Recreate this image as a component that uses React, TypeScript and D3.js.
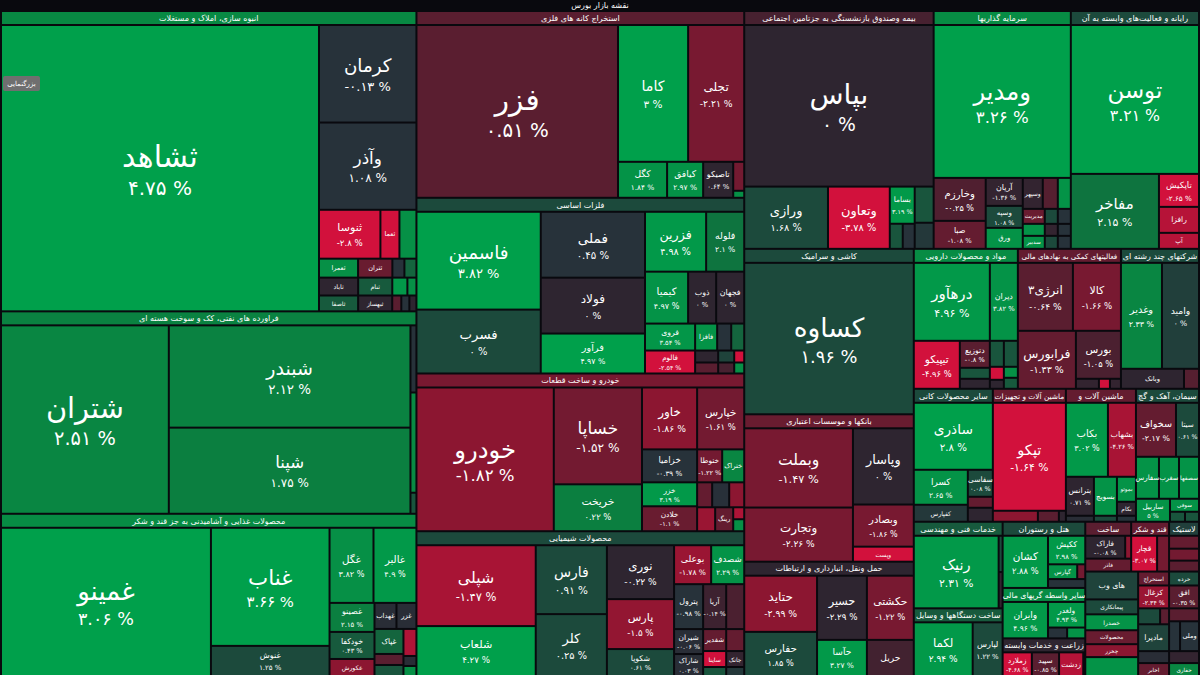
import React, { useMemo } from 'react';
import * as d3 from 'd3';

// ---------- DATA ----------
// sectors: [id, title, colour value]
const sectors: [string, string, number][] = [
  ['s1', 'انبوه سازی، املاک و مستغلات', 2.3],
  ['s2', 'فراورده های نفتی، کک و سوخت هسته ای', 2.1],
  ['s3', 'محصولات غذایی و آشامیدنی به جز قند و شکر', 2.4],
  ['s4', 'استخراج کانه های فلزی', -1],
  ['s5', 'فلزات اساسی', 1],
  ['s6', 'خودرو و ساخت قطعات', -1.6],
  ['s7', 'محصولات شیمیایی', 1],
  ['s8', 'بیمه وصندوق بازنشستگی به جزتامین اجتماعی', -0.6],
  ['s9', 'سرمایه گذاریها', 2.4],
  ['s10', 'رایانه و فعالیت‌های وابسته به آن', 1],
  ['s11', 'کاشی و سرامیک', 1],
  ['s12', 'بانکها و موسسات اعتباری', -1.3],
  ['s13', 'حمل ونقل، انبارداری و ارتباطات', -0.1],
  ['s14', 'مواد و محصولات دارویی', 2.4],
  ['s15', 'فعالیتهای کمکی به نهادهای مالی', -1.2],
  ['s16', 'شرکتهای چند رشته ای', 1],
  ['s17', 'سایر محصولات کانی', 1],
  ['s18', 'ماشین آلات و تجهیزات', -1.3],
  ['s19', 'ماشین آلات و', -1.2],
  ['s20', 'سیمان، آهک و گچ', 1],
  ['s21', 'خدمات فنی و مهندسی', 1.3],
  ['s22', 'ساخت دستگاهها و وسایل', 1.3],
  ['s23', 'هتل و رستوران', 1],
  ['s24', 'سایر واسطه گریهای مالی', 2.4],
  ['s25', 'زراعت و خدمات وابسته', -0.1],
  ['s26', 'ساخت', -1],
  ['s27', 'قند و شکر', -1.2],
  ['s28', 'لاستیک', 0.7],
];

// stocks: [symbol (aNN = unlabeled), last change %, colour value, weight]
const stocks: [string, number | null, number, number][] = [
  ['ثشاهد', 4.75, 3, 91000], ['کرمان', -0.13, 0.35, 9500], ['وآذر', 1.08, 0.35, 8500],
  ['ثنوسا', -2.8, -3, 3000], ['ثعما', null, -3, 930], ['a1', null, 2.5, 830],
  ['ثعمرا', null, 2.5, 740], ['ثتران', null, -1.3, 650], ['a2', null, 0.35, 228], ['a3', null, 1.5, 228],
  ['ثاباد', null, -0.1, 700], ['ثنام', null, 1.3, 610], ['a4', null, 2.8, 270], ['a5', null, 2.5, 162],
  ['ثاصفا', null, 1.3, 620], ['ثبهساز', null, -0.1, 540], ['a6', null, -1, 144], ['a7', null, 0.35, 128], ['a8', null, -0.1, 112],
  ['شتران', 2.51, 2.2, 31600], ['شبندر', 2.12, 2.1, 24700], ['شپنا', 1.75, 2.0, 20800],
  ['a9', null, 0.35, 402], ['a10', null, 2.3, 600], ['a11', null, 1.2, 126],
  ['غمینو', 3.06, 3, 31100], ['غناب', 3.66, 3, 14000], ['غنوش', 1.25, 1, 3570],
  ['غگل', 3.82, 2.5, 3300], ['غالبر', 4.9, 2.8, 3225], ['غصینو', 2.15, 2.0, 1305],
  ['خودکفا', 0.43, 1.3, 1215], ['غکورش', null, -2, 765], ['غهداب', null, 0.2, 572], ['غزر', null, 0.2, 520],
  ['غپاک', null, 1.5, 725], ['غشهد', null, -1, 319], ['غشاذر', null, 1.2, 319],
  ['a12', null, -2.5, 351], ['a13', null, 0.2, 130], ['a14', null, 2.5, 130],
  ['فزر', 0.51, -1, 34800], ['کاما', 3, 3, 9590], ['تجلی', -2.21, -1.6, 7672],
  ['کگل', 1.84, 2.6, 1764], ['کیافق', 2.97, 2.6, 1296], ['تاصیکو', 0.64, -0.1, 1080],
  ['a15', null, -1.5, 319], ['a16', null, 2.5, 77],
  ['فاسمین', 3.82, 3, 12152], ['فسرب', 0, 1, 7936], ['فملی', 0.45, 0.35, 6864], ['فولاد', 0, -0.1, 5824],
  ['فرآور', 4.97, 3, 4160], ['فزرین', 4.98, 2.8, 3660], ['فلوله', 2.1, 1.8, 2280], ['کیمیا', 4.97, 2.6, 2236],
  ['ذوب', 0, -0.1, 1456], ['فجهان', 0, -0.1, 1456], ['فروی', 3.54, 2.7, 1350], ['فافزا', null, 2.6, 594],
  ['a17', null, 0.35, 378], ['a18', null, 1.5, 351], ['فالوم', -2.54, -3, 1150], ['فسپا', null, -0.1, 276],
  ['a19', null, -1, 253], ['a20', null, 0.8, 192], ['a21', null, -3, 120], ['a22', null, -0.6, 176], ['a23', null, 2.5, 110],
  ['خودرو', -1.82, -2, 19728], ['خساپا', -1.52, -1.5, 8536], ['خریخت', 0.22, 2, 4136],
  ['خاور', -1.86, -2, 3410], ['خپارس', -1.61, -1.5, 2914], ['خزامیا', -0.39, 0.35, 1815],
  ['خنوطا', -1.22, -1.5, 825], ['ختراک', null, 2.2, 726], ['خزر', 3.19, 2.8, 1320], ['خلادن', -1.1, -1.3, 1375],
  ['a24', null, -1.2, 375], ['a25', null, 0.3, 425], ['a26', null, -2, 375],
  ['محرکه', null, -2.2, 432], ['رینگ', null, -1.2, 432], ['a27', null, -2.5, 132], ['a28', null, 2.5, 132],
  ['شپلی', -1.47, -2.4, 9639], ['شلعاب', 4.27, 3, 5950], ['فارس', 0.91, 1, 4899], ['کلر', 0.25, 1, 4402],
  ['نوری', -0.22, -0.1, 3618], ['پارس', -1.5, -2.1, 3350], ['شکویا', 0.61, 1, 1809],
  ['بوعلی', -1.78, -2.2, 1443], ['شصدف', 2.29, 2.6, 1287], ['پترول', -0.98, 0.35, 1305],
  ['آریا', -0.14, -0.4, 1035], ['نسینا', null, -0.7, 810], ['شیران', -0.06, 0.2, 725], ['شاراک', 0.03, 0.2, 638],
  ['شفدیر', null, -1.2, 506], ['ساینا', null, -3, 368], ['a29', null, 1.2, 207],
  ['شاروم', null, -1.2, 396], ['جانک', null, -0.2, 288], ['a30', null, 0.5, 162],
  ['بپاس', 0, -0.1, 30590], ['ورازی', 1.68, 1, 5208], ['وتعاون', -3.78, -3, 3844], ['بساما', 3.19, 2.8, 925],
  ['a31', null, 1.2, 325], ['a32', null, 0.35, 300], ['a33', null, 1.2, 684], ['a34', null, 0.5, 494],
  ['ومدیر', 3.26, 3, 20961], ['وخارزم', -0.25, -0.8, 2236], ['صبا', -1.08, -1.2, 1456],
  ['آریان', -1.36, -0.2, 1036], ['وسپه', 1.08, 1, 814], ['ورق', null, 2.6, 777],
  ['وسپهر', null, -0.2, 620], ['a35', null, -0.9, 465], ['a36', null, 2.6, 403],
  ['مدیریت', null, -1.3, 330], ['a37', null, 1, 195], ['a38', null, 0.35, 195],
  ['پردیس', null, 2.6, 264], ['a39', null, -0.2, 156], ['a40', null, 0.35, 156],
  ['سدبیر', null, 2.6, 286], ['a41', null, 1, 169], ['a42', null, 0.35, 169],
  ['توسن', 3.21, 3, 19072], ['مفاخر', 2.15, 1.8, 6600], ['تاپکیش', -2.65, -3, 1320],
  ['رافزا', null, -2.6, 1040], ['آپ', null, -2.6, 640],
  ['کساوه', 1.96, 1, 25670],
  ['وبملت', -1.47, -1.6, 8611], ['وتجارت', -2.26, -1.6, 5886], ['وپاسار', 0, -0.1, 4636],
  ['وبصادر', -1.86, -1.6, 2562], ['وپست', null, -3, 915],
  ['حتاید', -2.99, -2, 4088], ['حفارس', 1.85, 1, 3212], ['حسیر', -2.29, -0.1, 3200],
  ['حآسا', 3.27, 2.8, 1800], ['حکشتی', -1.22, -1.6, 3008], ['حریل', null, -0.5, 1692],
  ['درهآور', 4.96, 2.8, 5928], ['دیران', 3.82, 2.6, 2184], ['تیپیکو', -4.96, -3, 2208], ['دتوزیع', -0.8, -1, 810],
  ['a43', null, 1.2, 330], ['a44', null, -0.1, 300], ['a45', null, 1.2, 364], ['a46', null, 1.2, 364],
  ['a47', null, -3, 182], ['a48', null, -0.1, 126], ['a49', null, 2.5, 154], ['a50', null, 1.3, 154],
  ['انرژی۳', -0.64, -1, 3740], ['کالا', -1.66, -1.6, 3264], ['فرابورس', -1.33, -1.2, 3364], ['بورس', -1.05, -0.7, 2160],
  ['a51', null, -0.2, 230], ['a52', null, -3, 110], ['a53', null, -0.2, 110],
  ['وغدیر', 2.33, 2.2, 4346], ['وامید', 0, 0.7, 3922], ['وبانک', null, -0.1, 1260], ['a54', null, -0.9, 300],
  ['ساذری', 2.8, 3, 5293], ['کسرا', 2.65, 2.6, 1890], ['کفپارس', null, 0.5, 918],
  ['سفاسی', 0.08, 1, 675], ['کهمدا', null, -1.2, 275], ['a55', null, -0.1, 350],
  ['تپکو', -1.64, -3, 7884], ['تیمپی', null, -2, 495], ['لخانه', null, -1, 231], ['a56', null, -0.1, 77],
  ['بکاب', 3.02, 2.8, 3108], ['بشهاب', -4.26, -2.4, 2072], ['بترانس', 0.71, -0.1, 1092], ['a57', null, 0.2, 168],
  ['بسویچ', null, 2.6, 897], ['a58', null, 1, 138], ['بموتو', null, 2.6, 475], ['بکام', null, -0.1, 266], ['a59', null, 0.35, 114],
  ['سخواف', -2.17, -1.2, 2160], ['سیتا', 0.61, 1, 1242], ['سفارس', null, 2.6, 966], ['سغرب', null, 2.6, 840],
  ['سصفها', null, 2.6, 840], ['ساربیل', 5, 2.6, 782], ['سوفی', null, 2.6, 377], ['a60', null, 1.2, 150], ['a61', null, 1.2, 140],
  ['رنیک', 2.31, 2.8, 6205], ['a62', null, 1, 146], ['a63', null, -0.2, 146],
  ['لکما', 2.94, 2.8, 3186], ['لپارس', 1.22, 1, 1620],
  ['کشان', 2.88, 2.8, 2385], ['ککیش', 2.98, 2.8, 1073], ['گپارس', null, 2.6, 435], ['a64', null, -1.5, 120], ['a65', null, 0.35, 333],
  ['وایران', 4.96, 2.8, 1665], ['ولغدر', 4.93, 2.8, 962], ['ولکار', null, 0.35, 209], ['a66', null, 2.6, 198],
  ['زملارد', -4.68, -3, 696], ['سپید', -0.85, -1, 648], ['زدشت', null, -2.6, 576], ['a67', null, -0.1, 48],
  ['فاراک', -0.08, -0.1, 920], ['a68', null, -2, 138], ['فاذر', null, -1.2, 598],
  ['قچار', -3.07, -3, 936], ['a69', null, -1.5, 432],
  ['a70', null, -1.2, 390], ['a71', null, -1.5, 360], ['a72', null, -1, 330],
  ['های وب', null, 0.8, 1484], ['پیمانکاری', null, 1, 795], ['خصدرا', null, 2.6, 848],
  ['محصولات', null, -1.3, 742], ['چخزر', null, -2, 689], ['a73', null, 2.6, 1007],
  ['استخراج', null, -1.2, 434], ['کزغال', -2.34, -2.2, 713], ['a74', null, 1, 352], ['a75', null, -1, 144],
  ['مادیرا', null, 0.8, 837], ['مخابرات', null, 0.2, 372], ['اخابر', null, -1.2, 403],
  ['خرده', null, 1, 420], ['افق', -0.35, -1, 690], ['a76', null, -1, 390], ['a77', null, 0.35, 330],
  ['وملی', null, 0.35, 570], ['a78', null, -0.2, 360], ['حفاری', null, 2.2, 390],
];

// colour scale stops (colour value -> fill)
const colorStops = [-3, -2, -1, -0.05, 0.35, 1, 2, 3];
const colorRange = ['#d2113c', '#8c1631', '#5a1e30', '#2c2530', '#27323a', '#1c4a3c', '#0b7f40', '#00a04b'];

// ---------- LAYOUT TREE (h = side by side, v = stacked) ----------
type TNode = { id?: string; d?: 'h' | 'v'; sector?: string; children?: TNode[] };
const lf = (c: TNode | string): TNode => (typeof c === 'string' ? { id: c } : c);
const H = (...c: (TNode | string)[]): TNode => ({ d: 'h', children: c.map(lf) });
const V = (...c: (TNode | string)[]): TNode => ({ d: 'v', children: c.map(lf) });
const S = (sector: string, d: 'h' | 'v', ...c: (TNode | string)[]): TNode => ({ sector, d, children: c.map(lf) });

const tree: TNode = H(
  V(
    S('s1', 'h', 'ثشاهد', V('کرمان', 'وآذر', V(H('ثنوسا', 'ثعما', 'a1'), H('ثعمرا', 'ثتران', 'a2', 'a3'), H('ثاباد', 'ثنام', 'a4', 'a5'), H('ثاصفا', 'ثبهساز', 'a6', 'a7', 'a8')))),
    S('s2', 'h', 'شتران', H(V('شبندر', 'شپنا'), V('a9', 'a10', 'a11'))),
    S('s3', 'h', 'غمینو', H(V('غناب', 'غنوش'), V(H('غگل', 'غالبر'), H(V('غصینو', 'خودکفا', 'غکورش'), V(H('غهداب', 'غزر'), H(V('غپاک', 'غشهد', 'غشاذر'), V('a12', 'a13', 'a14'))))))),
  ),
  V(
    S('s4', 'h', 'فزر', V(H('کاما', 'تجلی'), H('کگل', 'کیافق', 'تاصیکو', V('a15', 'a16')))),
    S('s5', 'h', V('فاسمین', 'فسرب'), V('فملی', 'فولاد', 'فرآور'),
      V(H('فزرین', 'فلوله'), H('کیمیا', 'ذوب', 'فجهان'), H('فروی', 'فافزا', 'a17', 'a18'), H('فالوم', V('فسپا', 'a19'), V(H('a20', 'a21'), H('a22', 'a23'))))),
    S('s6', 'h', 'خودرو', V('خساپا', 'خریخت'),
      V(H('خاور', 'خپارس'), H('خزامیا', 'خنوطا', 'ختراک'), H(V('خزر', 'خلادن'), V(H('a24', 'a25', 'a26'), H('محرکه', 'رینگ', V('a27', 'a28')))))),
    S('s7', 'h', V('شپلی', 'شلعاب'), V('فارس', 'کلر'), V('نوری', 'پارس', 'شکویا'),
      V(H('بوعلی', 'شصدف'), H('پترول', 'آریا', 'نسینا'), H(V('شیران', 'شاراک'), V('شفدیر', 'ساینا', 'a29'), V('شاروم', 'جانک', 'a30')))),
  ),
  V(
    H(
      S('s8', 'v', 'بپاس', H('ورازی', 'وتعاون', V('بساما', H('a31', 'a32')), V('a33', 'a34'))),
      S('s9', 'v', 'ومدیر', H(V('وخارزم', 'صبا'), V('آریان', 'وسپه', 'ورق'),
        V(H('وسپهر', 'a35', 'a36'), H('مدیریت', 'a37', 'a38'), H('پردیس', 'a39', 'a40'), H('سدبیر', 'a41', 'a42')))),
      S('s10', 'v', 'توسن', H('مفاخر', V('تاپکیش', 'رافزا', 'آپ'))),
    ),
    H(
      V(
        S('s11', 'h', 'کساوه'),
        S('s12', 'h', V('وبملت', 'وتجارت'), V('وپاسار', 'وبصادر', 'وپست')),
        S('s13', 'h', V('حتاید', 'حفارس'), V('حسیر', 'حآسا'), V('حکشتی', 'حریل')),
      ),
      V(
        H(
          S('s14', 'v', H('درهآور', 'دیران'), H('تیپیکو', V('دتوزیع', 'a43', 'a44'), V(H('a45', 'a46'), H(V('a47', 'a48'), V('a49', 'a50'))))),
          S('s15', 'v', H('انرژی۳', 'کالا'), H('فرابورس', V('بورس', H('a51', 'a52', 'a53')))),
          S('s16', 'v', H('وغدیر', 'وامید'), H('وبانک', 'a54')),
        ),
        H(
          S('s17', 'v', 'ساذری', H(V('کسرا', 'کفپارس'), V('سفاسی', 'کهمدا', 'a55'))),
          S('s18', 'v', 'تپکو', H('تیمپی', 'لخانه', 'a56')),
          S('s19', 'v', H('بکاب', 'بشهاب'), H(V('بترانس', 'a57'), V('بسویچ', 'a58'), V('بموتو', 'بکام', 'a59'))),
          S('s20', 'v', H('سخواف', 'سیتا'), H('سفارس', 'سغرب', 'سصفها'), H('ساربیل', V('سوفی', H('a60', 'a61')))),
        ),
        H(
          V(S('s21', 'h', 'رنیک', V('a62', 'a63')), S('s22', 'h', 'لکما', 'لپارس')),
          V(S('s23', 'h', 'کشان', V('ککیش', H('گپارس', 'a64'), 'a65')), S('s24', 'h', 'وایران', V('ولغدر', H('ولکار', 'a66'))), S('s25', 'h', 'زملارد', 'سپید', 'زدشت', 'a67')),
          V(
            H(S('s26', 'v', H('فاراک', 'a68'), 'فاذر'), S('s27', 'h', 'قچار', 'a69'), S('s28', 'v', 'a70', 'a71', 'a72')),
            H(V('های وب', 'پیمانکاری', 'خصدرا', 'محصولات', 'چخزر', 'a73'),
              V('استخراج', 'کزغال', H('a74', 'a75'), 'مادیرا', 'مخابرات', 'اخابر'),
              V('خرده', 'افق', 'a76', H('a77', 'وملی'), 'a78', 'حفاری')),
          ),
        ),
      ),
    ),
  ),
);

// ---------- HELPERS ----------
const W = 1200, HT = 675, HDR = 14;
const fa = (s: string) => s.replace(/\d/g, (d) => '۰۱۲۳۴۵۶۷۸۹'[+d]);
const FONT = "'DejaVu Sans', sans-serif";

function tile(node: any, x0: number, y0: number, x1: number, y1: number) {
  const ch = node.children;
  if (!ch) return;
  if (node.data.d === 'h') {
    const h = y1 - y0;
    const ws = ch.map((c: any) => c.value / Math.max(1, h - c.oh));
    const tot = d3.sum(ws as number[]);
    let x = x0;
    ch.forEach((c: any, i: number) => {
      c.x0 = x; x += ((x1 - x0) * ws[i]) / tot; c.x1 = x; c.y0 = y0; c.y1 = y1;
    });
  } else {
    const ohs = d3.sum(ch, (c: any) => c.oh);
    const avail = Math.max(0, y1 - y0 - ohs);
    const tot = d3.sum(ch, (c: any) => c.value);
    let y = y0;
    ch.forEach((c: any) => {
      c.x0 = x0; c.x1 = x1; c.y0 = y; y += c.oh + (avail * c.value) / tot; c.y1 = y;
    });
  }
}

export default function App() {
  const { leaves, heads } = useMemo(() => {
    const stockMap = new Map(stocks.map((s) => [s[0], s]));
    const root: any = d3.hierarchy<TNode>(tree, (d) => d.children).sum((d) => (d.id ? stockMap.get(d.id)?.[3] ?? 0 : 0));
    root.eachAfter((n: any) => {
      let oh = 0;
      if (n.children) {
        if (n.data.d === 'v') oh = d3.sum(n.children, (c: any) => c.oh);
        else oh = d3.sum(n.children, (c: any) => c.oh * c.value) / (n.value || 1);
      }
      if (n.data.sector) oh += HDR;
      n.oh = oh;
    });
    d3.treemap<TNode>()
      .size([W, HT])
      .tile(tile as any)
      .paddingInner(2)
      .paddingTop((n: any) => (n.depth === 0 ? 12 : n.data.sector ? HDR : 0))
      .paddingLeft((n: any) => (n.depth === 0 ? 2 : 0))
      .paddingRight((n: any) => (n.depth === 0 ? 2 : 0))(root);
    const leaves = root.leaves().map((n: any) => {
      const s = stockMap.get(n.data.id)!;
      return { x0: n.x0, y0: n.y0, x1: n.x1, y1: n.y1, id: s[0], name: /^a\d+$/.test(s[0]) ? '' : s[0], pct: s[1], cv: s[2] };
    });
    const secMap = new Map(sectors.map((s) => [s[0], s]));
    const heads = root.descendants().filter((n: any) => n.data.sector).map((n: any) => {
      const s = secMap.get(n.data.sector)!;
      return { x0: n.x0, y0: n.y0, x1: n.x1, title: s[1], cv: s[2], id: s[0] };
    });
    return { leaves, heads };
  }, []);

  const color = d3.scaleLinear<string>().domain(colorStops).range(colorRange).interpolate(d3.interpolateRgb).clamp(true);

  const labels = leaves.map((l: any) => {
    if (!l.name) return null;
    const w = l.x1 - l.x0, h = l.y1 - l.y0;
    let nf = Math.min(30, 4 + 0.15 * Math.min(w, h));
    nf = Math.min(nf, (w - 3) / (0.5 * l.name.length), h * 0.75);
    if (nf < 5.5) return null;
    const cx = (l.x0 + l.x1) / 2, cy = (l.y0 + l.y1) / 2;
    const pf = Math.max(6.3, 0.6 * nf + 2);
    const showPct = l.pct != null && h >= 2.1 * nf + 5 && w >= pf * 3;
    if (!showPct) {
      return (
        <text key={'t' + l.id} x={cx} y={cy} fontSize={nf} fill="#fff" textAnchor="middle" dominantBaseline="central" direction="rtl">{l.name}</text>
      );
    }
    const off = h < 26 ? 0.8 : 1;
    return (
      <g key={'t' + l.id}>
        <text x={cx} y={cy - (0.3 * nf + 3) * off} fontSize={nf} fill="#fff" textAnchor="middle" dominantBaseline="central" direction="rtl">{l.name}</text>
        <text x={cx} y={cy + (0.55 * nf + 3) * off} fontSize={pf} fill="#fff" textAnchor="middle" dominantBaseline="central">{fa(String(l.pct)) + ' %'}</text>
      </g>
    );
  });

  return (
    <svg width={W} height={HT} style={{ position: 'fixed', left: 0, top: 0, background: '#09090e' }} fontFamily={FONT}>
      <rect x={0} y={0} width={W} height={HT} fill="#09090e" />
      <text x={W / 2} y={5.5} fontSize={8} fill="#fff" textAnchor="middle" dominantBaseline="central" direction="rtl">نقشه بازار بورس</text>
      {leaves.map((l: any) => (
        <rect key={l.id} x={l.x0} y={l.y0} width={Math.max(0, l.x1 - l.x0)} height={Math.max(0, l.y1 - l.y0)} fill={color(l.cv)} />
      ))}
      {heads.map((h: any) => {
        const w = h.x1 - h.x0;
        const fs = Math.min(8, (w - 6) / (0.44 * h.title.length));
        return (
          <g key={h.id}>
            <rect x={h.x0} y={h.y0} width={w} height={HDR - 2} fill={color(h.cv)} />
            <text x={(h.x0 + h.x1) / 2} y={h.y0 + 6.3} fontSize={fs} fill="#fff" textAnchor="middle" dominantBaseline="central" direction="rtl">{h.title}</text>
          </g>
        );
      })}
      {labels}
      <rect x={3} y={76} width={37} height={15} rx={2} fill="#6f6f6f" />
      <text x={21.5} y={83.5} fontSize={7} fill="#fff" textAnchor="middle" dominantBaseline="central" direction="rtl">بزرگنمایی</text>
    </svg>
  );
}
